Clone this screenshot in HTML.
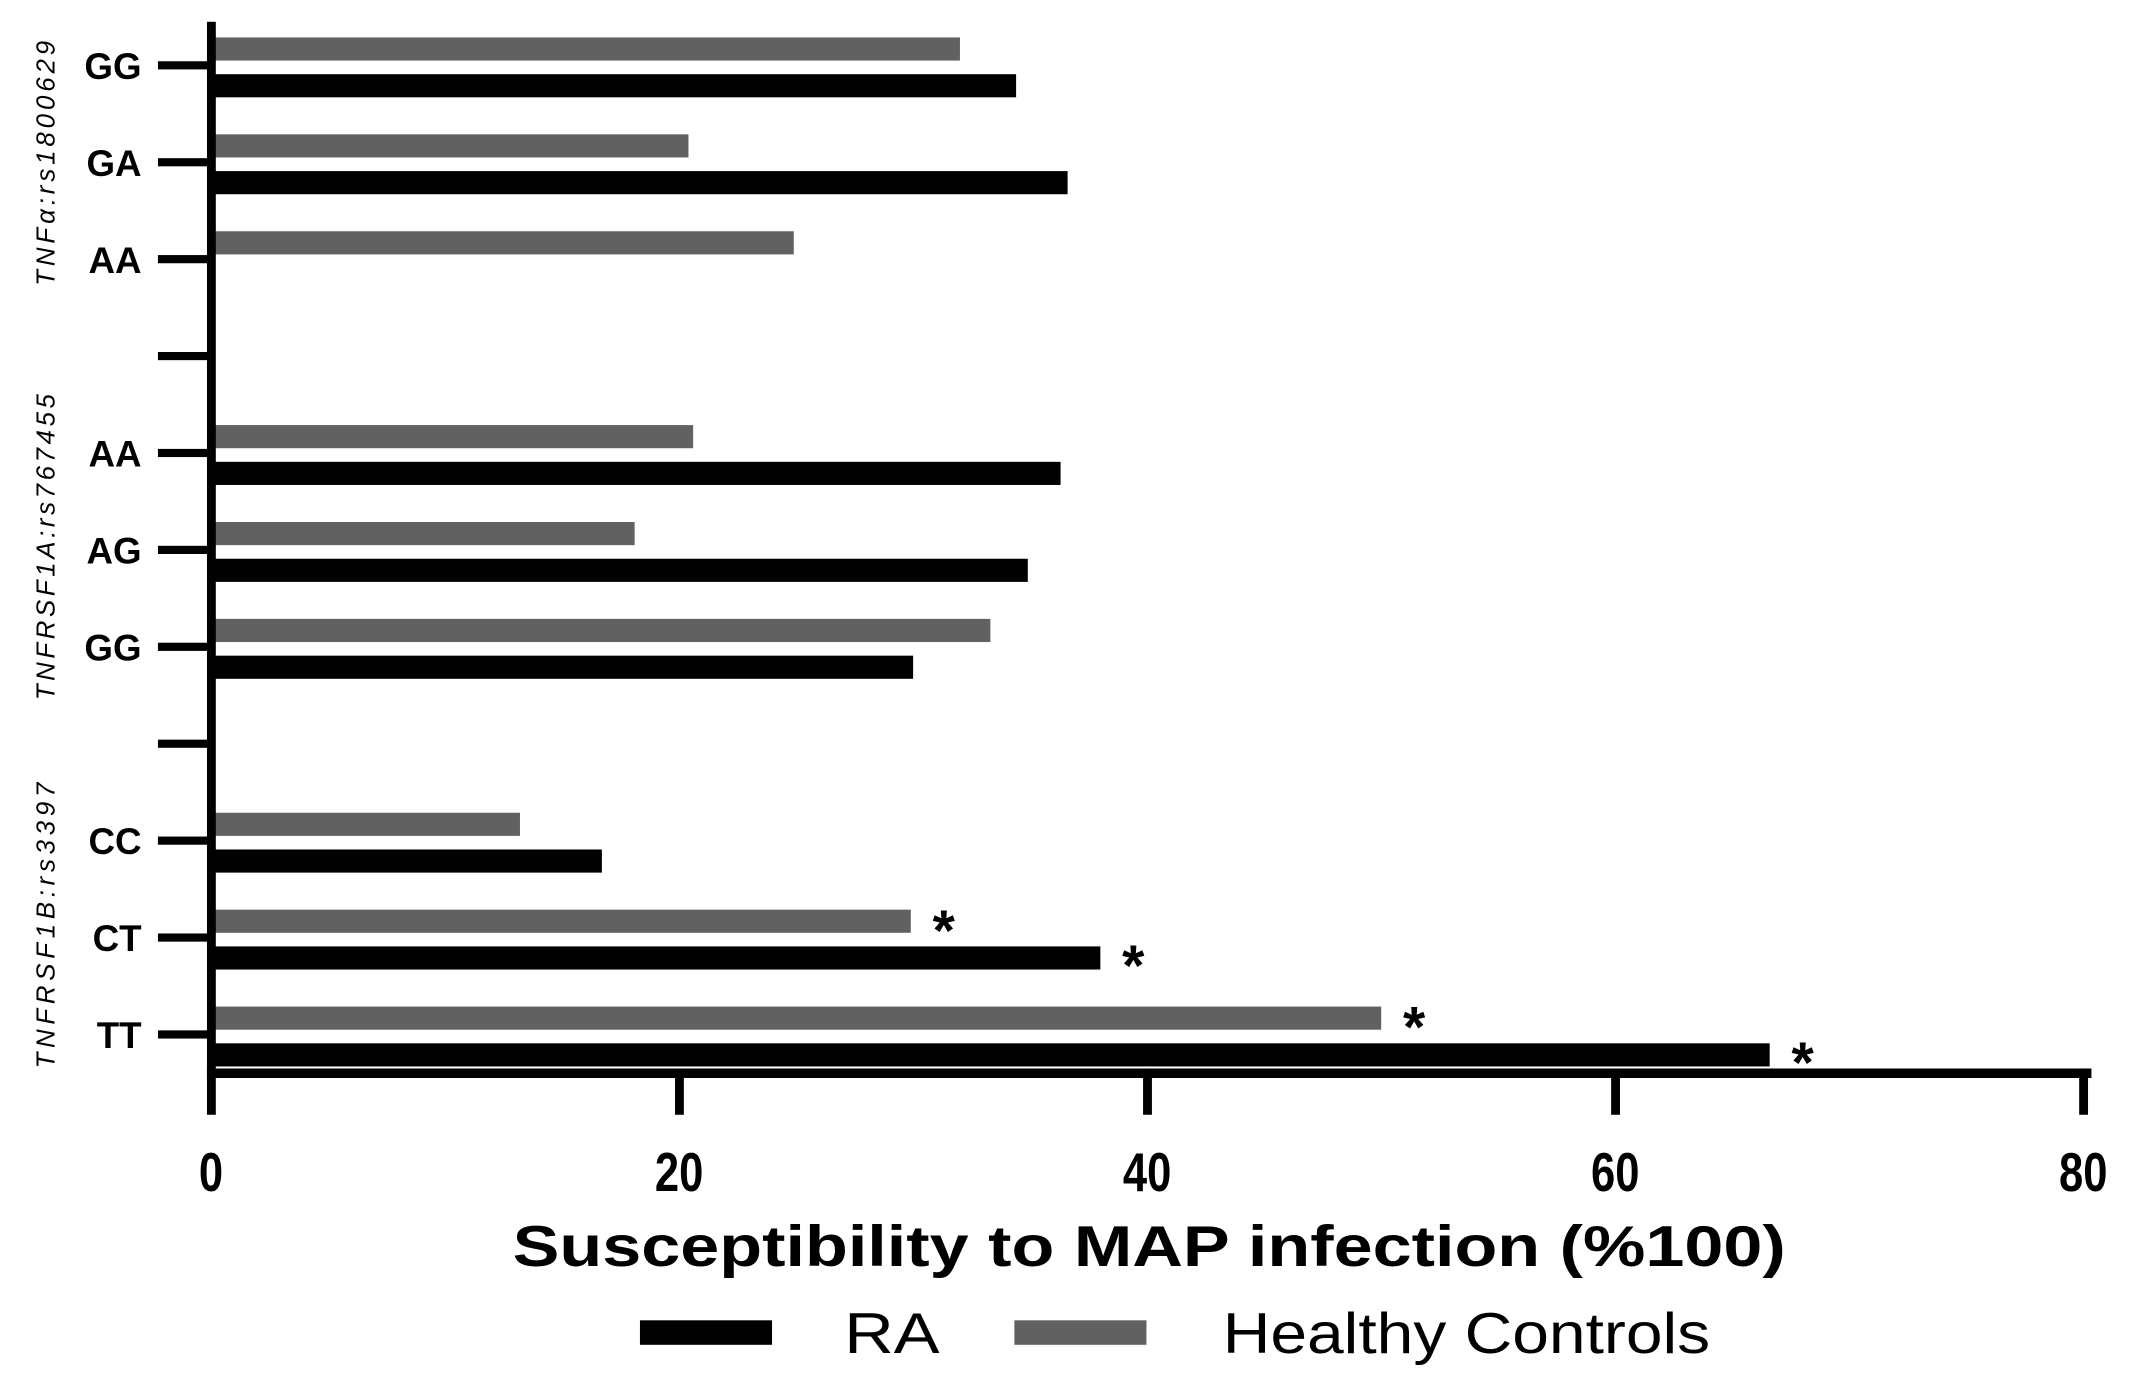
<!DOCTYPE html>
<html><head><meta charset="utf-8">
<style>
html,body{margin:0;padding:0;background:#fff;}
svg{display:block;}
text{font-family:"Liberation Sans",Arial,sans-serif;}
</style></head>
<body>
<svg id="chart" width="2135" height="1387" viewBox="0 0 1568 1019" preserveAspectRatio="none" xmlns="http://www.w3.org/2000/svg">
<g id="plot"></g>
</svg>
<script>
const categories = ["GG","GA","AA","","AA","AG","GG","","CC","CT","TT"];
const raValues = [34.4, 36.6, null, null, 36.3, 34.9, 30.0, null, 16.7, 38.0, 66.6];
const hcValues = [32.0, 20.4, 24.9, null, 20.6, 18.1, 33.3, null, 13.2, 29.9, 50.0];
const raStars = [false,false,false,false,false,false,false,false,false,true,true];
const hcStars = [false,false,false,false,false,false,false,false,false,true,true];
const xTicks = [0, 20, 40, 60, 80];
const groupLabels = ["TNFα:rs1800629","TNFRSF1A:rs767455","TNFRSF1B:rs3397"];

const NS = "http://www.w3.org/2000/svg";
const g = document.getElementById('plot');
const X0 = 155, X1 = 1530, XMAX = 80;
const xs = v => X0 + (v / XMAX) * (X1 - X0);
const Y0 = 48, STEP = 71.2;
const ys = i => Y0 + i * STEP;
function el(tag, attrs, txt){const e=document.createElementNS(NS,tag);for(const k in attrs)e.setAttribute(k,attrs[k]);if(txt!==undefined)e.textContent=txt;g.appendChild(e);return e;}

categories.forEach((c,i)=>{
  const y = ys(i);
  if(hcValues[i]!==null){
    const r = el('rect',{x:158,y:y-20.5,width:xs(hcValues[i])-158,height:17,fill:'#616161'});
    
    
    if(hcStars[i]){const s=el('text',{x:xs(hcValues[i])+16,y:y+9,'font-size':42,'font-weight':'bold',fill:'#000'},'*');
      
      }
  }
  if(raValues[i]!==null){
    const r = el('rect',{x:158,y:y+6.5,width:xs(raValues[i])-158,height:17,fill:'#000'});
    
    
    if(raStars[i]){const s=el('text',{x:xs(raValues[i])+16,y:y+35,'font-size':42,'font-weight':'bold',fill:'#000'},'*');
      
      }
  }
  const t = el('rect',{x:116,y:y-3,width:38,height:6,fill:'#000'});
  
  
  if(c){const l=el('text',{x:104,y:y+10,'font-size':27,'font-weight':'bold','text-anchor':'end',fill:'#000'},c);
    
    }
});

const ya = el('rect',{x:152,y:16,width:6.5,height:776,fill:'#000'});


const xa = el('rect',{x:152,y:785,width:1384,height:7,fill:'#000'});


xTicks.forEach(v=>{
  const t=el('rect',{x:xs(v)-3,y:785,width:6.5,height:34,fill:'#000'});
  
  
  const l=el('text',{x:xs(v),y:875,'font-size':40,'font-weight':'bold','text-anchor':'middle',fill:'#000',transform:`translate(${xs(v)*0.2},0) scale(0.8,1)`},String(v));
  
  
});

const groupCenters=[120,402,680], groupLens=[180,225,210];
groupLabels.forEach((s,i)=>{
  const t=el('text',{x:0,y:0,'font-size':19,'font-style':'italic','text-anchor':'middle',fill:'#000',textLength:groupLens[i],lengthAdjust:'spacing',transform:`translate(40,${groupCenters[i]}) rotate(-90)`},s);
  
  
});

const ti=el('text',{x:844,y:930,'font-size':42,'font-weight':'bold','text-anchor':'middle',fill:'#000',textLength:935,lengthAdjust:'spacingAndGlyphs'},'Susceptibility to MAP infection (%100)');



const l1=el('rect',{x:470,y:970,width:97,height:18,fill:'#000'});


const l1t=el('text',{x:620,y:994,'font-size':42,fill:'#000',textLength:70,lengthAdjust:'spacingAndGlyphs'},'RA');


const l2=el('rect',{x:745,y:970,width:97,height:18,fill:'#616161'});


const l2t=el('text',{x:898,y:994,'font-size':42,fill:'#000',textLength:358,lengthAdjust:'spacingAndGlyphs'},'Healthy Controls');


</script>
</body></html>
